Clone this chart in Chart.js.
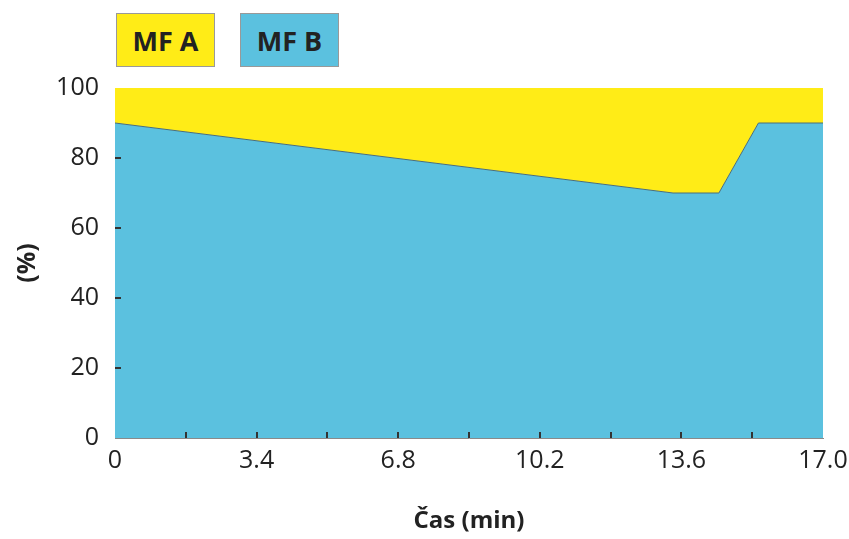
<!DOCTYPE html>
<html>
<head>
<meta charset="utf-8">
<script src="https://cdn.jsdelivr.net/npm/chart.js@4"></script>
<style>
  body { margin: 0; background: #fff; }
  #wrap { position: relative; width: 849px; height: 539px; }
  .key {
    position: absolute; top: 13px; width: 99px; height: 54px;
    border: 1px solid #999; box-sizing: border-box;
    font: bold 27px "Open Sans", sans-serif; color: #222;
    display: flex; align-items: center; justify-content: center;
  }
</style>
</head>
<body>
<div id="wrap">
  <canvas id="chart" width="849" height="539"></canvas>
  <div class="key" id="keyA" style="left:116px;">MF A</div>
  <div class="key" id="keyB" style="left:240px;">MF B</div>
</div>
<script>
// čas (min) a podíl mobilních fází
const times = [0, 13.4, 14.5, 15.45, 17];
const mfB = [90, 70, 70, 90, 90];
const mfA = mfB.map(v => 100 - v);
const xLabels = ['0', '3.4', '6.8', '10.2', '13.6', '17.0'];

const colorA = '#ffec17';
const colorB = '#5bc1df';
document.getElementById('keyA').style.background = colorA;
document.getElementById('keyB').style.background = colorB;

// ticks pointing inward
const innerTicks = {
    id: 'innerTicks',
    afterDatasetsDraw(chart) {
        const ctx = chart.ctx;
        const x = chart.scales.x, y = chart.scales.y;
        ctx.save();
        ctx.strokeStyle = '#333';
        ctx.lineWidth = 2;
        ctx.beginPath();
        x.ticks.forEach(t => {
            if (t.value <= 0.01 || t.value >= 16.99) return;
            const px = Math.round(x.getPixelForValue(t.value));
            ctx.moveTo(px, y.bottom);
            ctx.lineTo(px, y.bottom - 6);
        });
        y.ticks.forEach(t => {
            if (t.value <= 0 || t.value >= 100) return;
            const py = Math.round(y.getPixelForValue(t.value));
            ctx.moveTo(x.left, py);
            ctx.lineTo(x.left + 6, py);
        });
        ctx.stroke();
        ctx.restore();
    }
};

new Chart(document.getElementById('chart'), {
    type: 'line',
    data: {
        datasets: [{
            label: 'MF B',
            data: times.map((t, i) => ({ x: t, y: mfB[i] })),
            backgroundColor: colorB,
            borderColor: '#4a6e7a',
            borderWidth: 1,
            fill: 'origin',
            pointRadius: 0,
            tension: 0
        }, {
            label: 'MF A',
            data: times.map((t, i) => ({ x: t, y: mfA[i] })),
            backgroundColor: colorA,
            borderWidth: 0,
            fill: '-1',
            pointRadius: 0,
            tension: 0
        }]
    },
    options: {
        responsive: false,
        animation: false,
        layout: { padding: { top: 88, right: 0, left: 0, bottom: 0 } },
        plugins: { legend: { display: false }, tooltip: { enabled: false } },
        scales: {
            x: {
                type: 'linear',
                min: 0, max: 17,
                afterFit: s => { s.height = 101; s.paddingRight = 26; s.paddingLeft = 0; },
                afterBuildTicks: s => {
                    s.ticks = [];
                    for (let i = 0; i <= 10; i++) s.ticks.push({ value: i * 1.7 });
                },
                ticks: {
                    autoSkip: false,
                    maxRotation: 0,
                    padding: 8,
                    color: '#222',
                    font: { family: 'Open Sans', size: 25 },
                    callback: (v, i) => i % 2 === 0 ? xLabels[i / 2] : ''
                },
                grid: { display: false, drawTicks: false },
                border: { display: true, color: '#8a8a8a', width: 1 },
                title: {
                    display: true, text: 'Čas (min)', color: '#222',
                    font: { family: 'Open Sans', size: 24, weight: 'bold' },
                    padding: { top: 0, bottom: 3 }
                }
            },
            y: {
                stacked: true,
                min: 0, max: 100,
                afterFit: s => { s.width = 115; },
                ticks: {
                    stepSize: 20,
                    padding: 16,
                    color: '#222',
                    font: { family: 'Open Sans', size: 25 }
                },
                grid: { display: false, drawTicks: false },
                border: { display: true, color: '#8a8a8a', width: 1 },
                title: {
                    display: true, text: '(%)', color: '#222',
                    font: { family: 'Open Sans', size: 25, weight: 'bold' },
                    padding: { top: 13, bottom: 0 }
                }
            }
        }
    },
    plugins: [innerTicks]
});
</script>
</body>
</html>
